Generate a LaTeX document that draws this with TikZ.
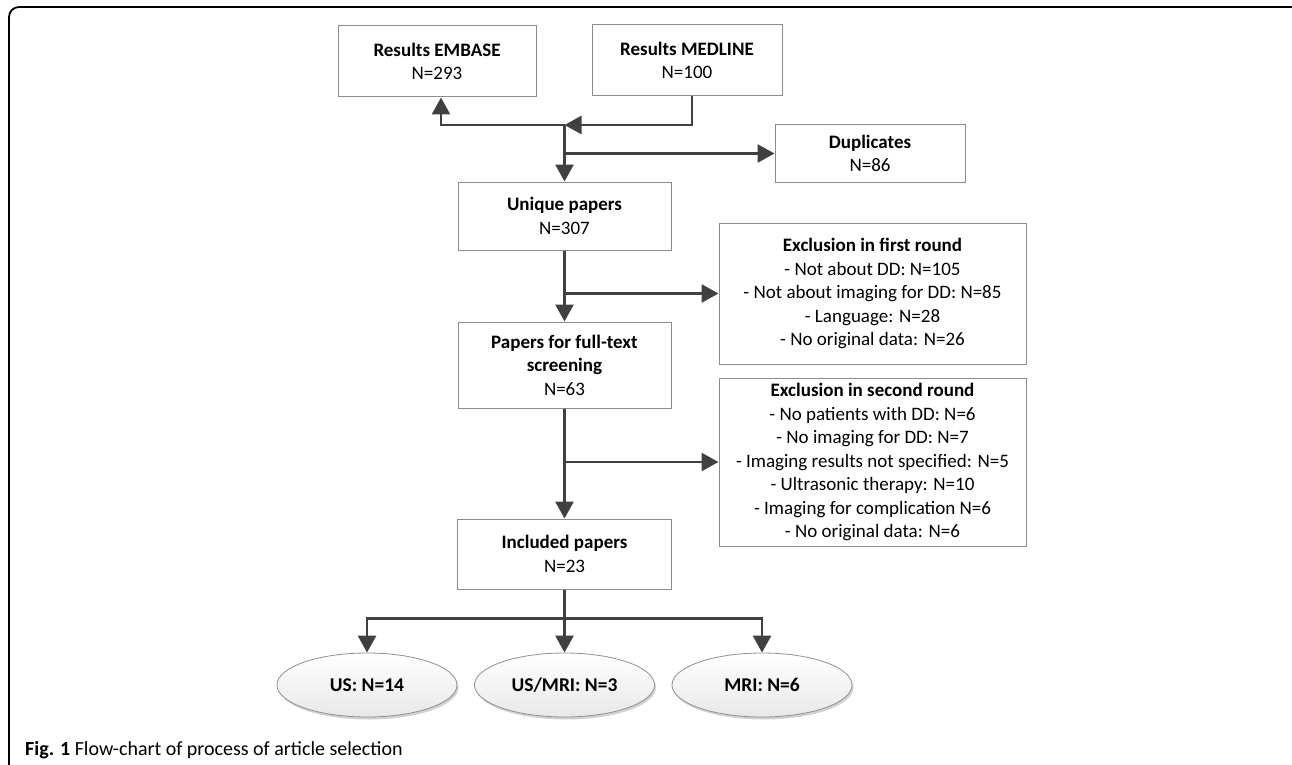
\documentclass[tikz,border=0pt]{standalone}
\usepackage{fontspec}
\setmainfont{Carlito}
\usetikzlibrary{arrows.meta,shapes.geometric,shadows}
\definecolor{arrc}{HTML}{404040}
\definecolor{boxc}{HTML}{8C8C8C}
\definecolor{ellb}{HTML}{909090}
\tikzset{
  box/.style={draw=boxc, line width=1pt, fill=white, rectangle, inner sep=0pt, align=center,
    font=\fontsize{19}{23.5}\selectfont},
  oval/.style={ellipse, draw=ellb, line width=0.8pt, top color=white, bottom color=black!9,
    minimum width=180pt, minimum height=64pt, inner sep=0pt,
    font=\fontsize{19.5}{23.5}\selectfont\bfseries,
    drop shadow={shadow xshift=1.5pt, shadow yshift=-2.5pt, opacity=0.18, fill=black}},
  arr/.style={draw=arrc, line width=2.8pt, -{Triangle[length=17pt,width=18pt]}},
  ln/.style={draw=arrc, line width=2.8pt}
}
\begin{document}
\begin{tikzpicture}[x=1pt,y=-1pt]
\useasboundingbox (0,0) rectangle (1292,765);
\begin{scope}
\clip (0,0) rectangle (1292,765);
\draw[line width=1.8pt, rounded corners=10pt] (9,7) rectangle (1302,790);
\end{scope}

\node[box, minimum width=198pt, minimum height=71pt] (emb) at (437,61.5) {\textbf{Results EMBASE}\\N=293};
\node[box, minimum width=190pt, minimum height=71pt] (med) at (687,60.5) {\textbf{Results MEDLINE}\\N=100};
\node[box, minimum width=190pt, minimum height=57pt] (dup) at (870,153.5) {\textbf{Duplicates}\\N=86};
\node[box, minimum width=213pt, minimum height=68pt] (uni) at (564.5,216) {\textbf{Unique papers}\\N=307};
\node[box, minimum width=307pt, minimum height=141pt] (ex1) at (872.5,293.5) {\textbf{Exclusion in first round}\\- Not about DD: N=105\\- Not about imaging for DD: N=85\\- Language: N=28\\- No original data: N=26};
\node[box, minimum width=213pt, minimum height=86pt] (pap) at (564.5,365) {\textbf{Papers for full-text}\\\textbf{screening}\\N=63};
\node[box, minimum width=307pt, minimum height=168pt] (ex2) at (872.5,462) {\textbf{Exclusion in second round}\\- No patients with DD: N=6\\- No imaging for DD: N=7\\- Imaging results not specified: N=5\\- Ultrasonic therapy: N=10\\- Imaging for complication N=6\\- No original data: N=6};
\node[box, minimum width=214pt, minimum height=70pt] (inc) at (564.5,554) {\textbf{Included papers}\\N=23};

\node[oval] (us) at (367,685) {US: N=14};
\node[oval] (usm) at (564.5,685) {US/MRI: N=3};
\node[oval] (mri) at (762,685) {MRI: N=6};

\coordinate (j1) at (564.5,125);
\draw[arr] ([xshift=5pt]med.south) |- (j1);
\draw[arr] (j1) -| ([xshift=4pt]emb.south);
\draw[arr] (j1) -- (uni.north);
\draw[arr] (j1 |- dup.west) -- (dup.west);
\draw[arr] (uni.south) -- (pap.north);
\draw[arr] (uni.south |- ex1.west) -- (ex1.west);
\draw[arr] (pap.south) -- (inc.north);
\draw[arr] (pap.south |- ex2.west) -- (ex2.west);
\draw[ln] (inc.south) -- ++(0,29) coordinate (j2);
\draw[arr] (j2) -| (us.north);
\draw[arr] (j2) -- (usm.north);
\draw[arr] (j2) -| (mri.north);

\node[anchor=base west, inner sep=0pt, font=\fontsize{20}{24}\selectfont] (cap) at (25,755) {\textbf{Fig. 1} Flow-chart of process of article selection};
\end{tikzpicture}
\end{document}
